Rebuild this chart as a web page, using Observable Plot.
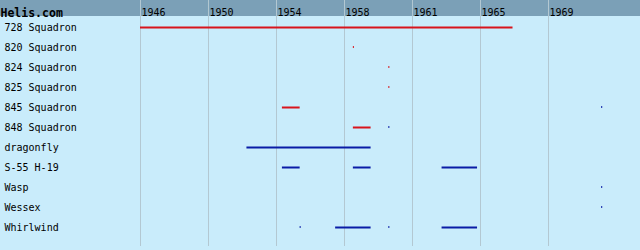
<!DOCTYPE html>
<html>
<head>
<meta charset="utf-8">
<script src="https://cdn.jsdelivr.net/npm/d3@7"></script>
<script src="https://cdn.jsdelivr.net/npm/@observablehq/plot@0.6"></script>
<style>
  html, body { margin: 0; padding: 0; background: #c9ecfb; }
  #chart svg { display: block; }
</style>
</head>
<body>
<div id="chart"></div>
<script>
// Rows (categories)
const rows = ["728 Squadron", "820 Squadron", "824 Squadron", "825 Squadron", "845 Squadron",
  "848 Squadron", "dragonfly", "S-55 H-19", "Wasp", "Wessex", "Whirlwind"];

// Service periods
const segName  = ["728 Squadron", "845 Squadron", "848 Squadron", "dragonfly", "S-55 H-19", "S-55 H-19", "S-55 H-19", "Whirlwind", "Whirlwind"];
const segStart = [1946, 1954, 1958, 1952, 1954, 1958, 1963, 1957, 1963];
const segEnd   = [1967, 1955, 1959, 1959, 1955, 1959, 1965, 1959, 1965];
const segKind  = ["squadron", "squadron", "squadron", "type", "type", "type", "type", "type", "type"];

// Single-year events
const dotName = ["820 Squadron", "824 Squadron", "825 Squadron", "845 Squadron", "848 Squadron", "Wasp", "Wessex", "Whirlwind", "Whirlwind"];
const dotYear = [1958, 1960, 1960, 1972, 1960, 1972, 1972, 1955, 1960];
const dotKind = ["squadron", "squadron", "squadron", "type", "type", "type", "type", "type", "type"];

// Axis ticks (evenly spaced positions, rounded year labels)
const tickValues = [1946, 1949.8333, 1953.6667, 1957.5, 1961.3333, 1965.1667, 1969];
const tickLabels = ["1946", "1950", "1954", "1958", "1961", "1965", "1969"];

const segs = segName.map((n, i) => ({name: n, start: segStart[i], end: segEnd[i], kind: segKind[i]}));
const dots = dotName.map((n, i) => ({name: n, year: dotYear[i], kind: dotKind[i]}));
const ticks = tickValues.map((v, i) => ({v, label: tickLabels[i]}));

const font = "'DejaVu Sans Mono', 'Liberation Mono', monospace";

const chart = Plot.plot({
  width: 640,
  height: 250,
  marginLeft: 140,
  marginRight: 0,
  marginTop: 0,
  marginBottom: 4,
  style: {background: "#c9ecfb", fontFamily: font, fontSize: "10px", color: "#000"},
  x: {domain: [1946, 1969], range: [140, 548], axis: null},
  y: {domain: rows, range: [17, 237], padding: 0, axis: null},
  color: {domain: ["squadron", "type"], range: ["#d8141c", "#0a1ca6"]},
  marks: [
    // header band
    () => {
      const g = d3.create("svg:g");
      g.append("rect").attr("x", 0).attr("y", 0).attr("width", 640).attr("height", 16).attr("fill", "#7ba0b7");
      return g.node();
    },
    Plot.ruleX(tickValues, {stroke: "#b3c8d2", strokeWidth: 1}),
    Plot.text(ticks, {x: "v", text: "label", frameAnchor: "top", dy: 8, dx: 1, textAnchor: "start", fill: "#000", fontSize: 10}),
    Plot.text(["Helis.com"], {frameAnchor: "top-left", dx: -140, dy: 8, textAnchor: "start", fontWeight: "bold", fontSize: 11.5, fill: "#000"}),
    Plot.text(rows, {y: d => d, frameAnchor: "left", dx: -136, textAnchor: "start", fill: "#000", fontSize: 10}),
    Plot.ruleY(segs, {y: "name", x1: "start", x2: "end", stroke: "kind", strokeWidth: 2}),
    Plot.tickX(dots, {x: "year", y: "name", stroke: "kind", strokeWidth: 1, insetTop: 9, insetBottom: 9})
  ]
});
document.getElementById("chart").append(chart);
</script>
</body>
</html>
